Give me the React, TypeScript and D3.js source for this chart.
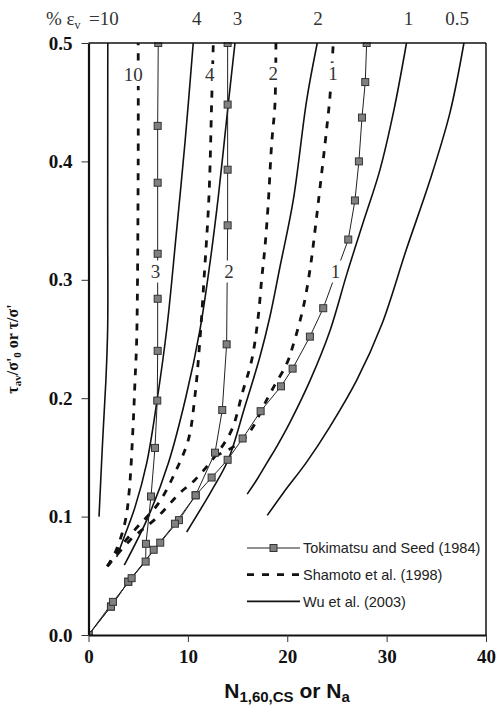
import React, { useEffect, useRef } from 'react';
import * as d3 from 'd3';

type Pt = [number, number];

// Wu et al. (2003) – solid curves, labelled along the top by % volumetric strain
const wu10: Pt[] = [[1.06, 0.1], [1.4, 0.16], [1.75, 0.215], [1.93, 0.26], [1.93, 0.35], [1.94, 0.5]];
const wu4: Pt[] = [[2.84, 0.066], [3.6, 0.083], [4.68, 0.108], [5.85, 0.145], [6.86, 0.196], [7.87, 0.258], [8.87, 0.342], [9.71, 0.416], [10.54, 0.5]];
const wu3: Pt[] = [[3.6, 0.059], [6.02, 0.1], [8.03, 0.145], [9.8, 0.201], [11.22, 0.258], [12.22, 0.314], [13.06, 0.37], [14.07, 0.449], [14.74, 0.5]];
const wu2: Pt[] = [[9.88, 0.087], [12.39, 0.122], [14.06, 0.148], [15.74, 0.193], [17.25, 0.235], [18.26, 0.269], [19.27, 0.311], [20.6, 0.367], [21.96, 0.452], [23.02, 0.5]];
const wu1: Pt[] = [[15.97, 0.119], [17.0, 0.132], [18.0, 0.146], [19.0, 0.16], [20.3, 0.18], [22.3, 0.215], [24.3, 0.257], [26.0, 0.305], [27.7, 0.35], [29.3, 0.392], [30.7, 0.442], [32.0, 0.5]];
const wu05: Pt[] = [[17.99, 0.101], [19.6, 0.12], [21.95, 0.146], [24.3, 0.176], [26.98, 0.215], [29.5, 0.262], [32.0, 0.326], [34.36, 0.384], [36.37, 0.441], [37.78, 0.5]];
const wuCurves = [wu10, wu4, wu3, wu2, wu1, wu05];

// Shamoto et al. (1998) – dashed curves
const sh10: Pt[] = [[1.9, 0.058], [2.7, 0.07], [3.67, 0.095], [4.1, 0.122], [4.5, 0.179], [4.68, 0.215], [4.85, 0.25], [5.0, 0.4], [5.0, 0.5]];
const sh4: Pt[] = [[1.9, 0.058], [3.0, 0.072], [4.68, 0.089], [7.02, 0.111], [8.7, 0.137], [10.05, 0.165], [10.7, 0.201], [11.22, 0.25], [11.62, 0.3], [12.12, 0.37], [12.39, 0.449], [12.56, 0.5]];
const sh2: Pt[] = [[1.9, 0.058], [4.18, 0.08], [6.86, 0.099], [9.2, 0.12], [10.71, 0.131], [12.73, 0.151], [14.4, 0.173], [15.5, 0.205], [16.42, 0.232], [17.08, 0.269], [17.42, 0.3], [17.76, 0.328], [18.09, 0.365], [18.43, 0.415], [18.76, 0.448], [18.86, 0.5]];
const sh1: Pt[] = [[12.73, 0.151], [14.2, 0.157], [15.57, 0.165], [16.58, 0.176], [17.59, 0.193], [18.6, 0.209], [19.94, 0.229], [20.6, 0.245], [21.62, 0.277], [22.33, 0.311], [22.84, 0.345], [23.34, 0.381], [23.96, 0.427], [24.3, 0.455], [24.63, 0.5]];
const shamotoCurves = [sh10, sh4, sh2, sh1];

// Tokimatsu and Seed (1984) – thin lines with square markers
const toki3: Pt[] = [[0, 0], [2.26, 0.024], [4.0, 0.045], [5.75, 0.062], [5.78, 0.077], [6.29, 0.117], [6.69, 0.158], [6.92, 0.198], [6.96, 0.24], [6.96, 0.284], [6.96, 0.322], [6.96, 0.382], [6.96, 0.43], [7.02, 0.5]];
const toki2: Pt[] = [[0, 0], [2.26, 0.024], [4.0, 0.045], [7.22, 0.078], [9.1, 0.097], [10.78, 0.118], [12.73, 0.154], [13.46, 0.19], [13.9, 0.2455], [14.0, 0.346], [14.0, 0.393], [14.0, 0.448], [14.0, 0.5]];
const toki1: Pt[] = [[0, 0], [2.46, 0.028], [4.34, 0.048], [6.56, 0.072], [8.7, 0.094], [10.78, 0.118], [12.39, 0.133], [14.0, 0.148], [15.51, 0.166], [17.32, 0.189], [19.37, 0.21], [20.54, 0.225], [22.28, 0.252], [23.62, 0.276], [26.14, 0.334], [26.81, 0.367], [27.21, 0.4], [27.52, 0.437], [27.85, 0.467], [27.99, 0.5]];
const tokiCurves = [toki3, toki2, toki1];

const topLabels = [
  { t: '4', x: 10.9 },
  { t: '3', x: 15.0 },
  { t: '2', x: 23.1 },
  { t: '1', x: 32.2 },
  { t: '0.5', x: 37.1 },
];
const shamotoLabels = [
  { t: '10', x: 4.5, y: 0.473 },
  { t: '4', x: 12.2, y: 0.473 },
  { t: '2', x: 18.6, y: 0.474 },
  { t: '1', x: 24.6, y: 0.474 },
];
const tokiLabels = [
  { t: '3', x: 6.75, y: 0.307 },
  { t: '2', x: 14.15, y: 0.307 },
  { t: '1', x: 24.85, y: 0.307 },
];
const xTicks = [0, 10, 20, 30, 40];
const yTicks = [0, 0.1, 0.2, 0.3, 0.4, 0.5];
const legendNames = ['Tokimatsu and Seed (1984)', 'Shamoto et al. (1998)', 'Wu et al. (2003)'];

const SERIF = '"Liberation Serif", "Times New Roman", serif';
const SANS = '"Liberation Sans", Arial, sans-serif';

const App: React.FC = () => {
  const svgRef = useRef<SVGSVGElement>(null);

  useEffect(() => {
    const svg = d3.select(svgRef.current);
    svg.selectAll('*').remove();

    const left = 88.5, right = 486, top = 43, bottom = 635;
    const x = d3.scaleLinear().domain([0, 40]).range([left, right]);
    const y = d3.scaleLinear().domain([0, 0.5]).range([bottom, top]);

    const line = d3.line<Pt>().x(d => x(d[0])).y(d => y(d[1]));
    const smooth = d3.line<Pt>().x(d => x(d[0])).y(d => y(d[1])).curve(d3.curveCatmullRom.alpha(0.5));

    const plot = svg.append('g');
    plot.append('defs').append('clipPath').attr('id', 'clip')
      .append('rect').attr('x', left).attr('y', top - 1).attr('width', right - left).attr('height', bottom - top + 1);
    const g = plot.append('g').attr('clip-path', 'url(#clip)');

    // Wu curves
    g.selectAll('.wu').data(wuCurves).enter().append('path')
      .attr('d', d => smooth(d)!)
      .attr('fill', 'none').attr('stroke', '#111').attr('stroke-width', 1.6);

    // Shamoto curves
    g.selectAll('.sh').data(shamotoCurves).enter().append('path')
      .attr('d', d => smooth(d)!)
      .attr('fill', 'none').attr('stroke', '#111').attr('stroke-width', 2.8)
      .attr('stroke-dasharray', '7,8');

    // Tokimatsu curves
    g.selectAll('.tk').data(tokiCurves).enter().append('path')
      .attr('d', d => line(d)!)
      .attr('fill', 'none').attr('stroke', '#222').attr('stroke-width', 1);
    tokiCurves.forEach(c => {
      g.selectAll(null).data(c).enter().append('rect')
        .attr('x', d => x(d[0]) - 3.5).attr('y', d => y(d[1]) - 3.5)
        .attr('width', 7).attr('height', 7)
        .attr('fill', '#808080').attr('stroke', '#333').attr('stroke-width', 1);
    });

    // in-plot labels with white background
    const inLabels = [...shamotoLabels, ...tokiLabels];
    inLabels.forEach(l => {
      const w = l.t.length * 9.5 + 4;
      svg.append('rect').attr('x', x(l.x) - w / 2).attr('y', y(l.y) - 11).attr('width', w).attr('height', 22).attr('fill', '#fff');
      svg.append('text').attr('x', x(l.x)).attr('y', y(l.y) + 6.5)
        .attr('text-anchor', 'middle').attr('font-family', SERIF).attr('font-size', 19).attr('fill', '#333')
        .text(l.t);
    });

    // frame
    svg.append('line').attr('x1', left).attr('x2', right).attr('y1', top).attr('y2', top).attr('stroke', '#111').attr('stroke-width', 1.5);
    svg.append('line').attr('x1', right).attr('x2', right).attr('y1', top).attr('y2', bottom).attr('stroke', '#111').attr('stroke-width', 1.5);

    // axes
    const ax = svg.append('g').attr('transform', `translate(0,${bottom})`)
      .call(d3.axisBottom(x).tickValues(xTicks).tickSize(7).tickSizeOuter(0).tickFormat(d3.format('d')));
    ax.select('.domain').attr('stroke', '#111').attr('stroke-width', 2.2);
    ax.selectAll('.tick line').attr('stroke', '#333');
    ax.selectAll('text').attr('font-family', SERIF).attr('font-weight', 'bold').attr('font-size', 19).attr('fill', '#111').attr('dy', '0.95em');

    const ay = svg.append('g').attr('transform', `translate(${left},0)`)
      .call(d3.axisLeft(y).tickValues(yTicks).tickSize(7).tickSizeOuter(0).tickPadding(9).tickFormat(d3.format('.1f')));
    ay.select('.domain').attr('stroke', '#111').attr('stroke-width', 2.2);
    ay.selectAll('.tick line').attr('stroke', '#333');
    ay.selectAll('text').attr('font-family', SERIF).attr('font-weight', 'bold').attr('font-size', 19).attr('fill', '#111');

    // top labels
    const tl = svg.append('text').attr('x', 46).attr('y', 25).attr('font-family', SERIF).attr('font-size', 19).attr('fill', '#333');
    tl.append('tspan').text('% ε');
    tl.append('tspan').attr('font-size', 12).attr('dy', 4).text('v');
    tl.append('tspan').attr('dy', -4).attr('x', 89).text('=10');
    svg.selectAll('.toplab').data(topLabels).enter().append('text')
      .attr('x', d => x(d.x)).attr('y', 25).attr('text-anchor', 'middle')
      .attr('font-family', SERIF).attr('font-size', 19).attr('fill', '#333')
      .text(d => d.t);

    // legend
    const lx1 = 247, lx2 = 300, ly0 = 548, ldy = 26.7;
    legendNames.forEach((name, i) => {
      const ly = ly0 + i * ldy;
      const ln = svg.append('line').attr('x1', lx1).attr('x2', lx2).attr('y1', ly).attr('y2', ly).attr('stroke', '#111');
      if (i === 0) {
        ln.attr('stroke-width', 1).attr('stroke', '#222');
        svg.append('rect').attr('x', (lx1 + lx2) / 2 - 3.5).attr('y', ly - 3.5).attr('width', 7).attr('height', 7)
          .attr('fill', '#808080').attr('stroke', '#333');
      } else if (i === 1) {
        ln.attr('stroke-width', 2.8).attr('stroke-dasharray', '7,8');
      } else {
        ln.attr('stroke-width', 1.6);
      }
      svg.append('text').attr('x', lx2 + 3).attr('y', ly).attr('dy', '0.36em')
        .attr('font-family', SANS).attr('font-size', 14.5).attr('fill', '#222').text(name);
    });

    // axis titles
    const xt = svg.append('text').attr('x', 287).attr('y', 698).attr('text-anchor', 'middle')
      .attr('font-family', SANS).attr('font-weight', 'bold').attr('font-size', 21).attr('fill', '#111');
    xt.append('tspan').text('N');
    xt.append('tspan').attr('font-size', 15).attr('dy', 4).text('1,60,CS');
    xt.append('tspan').attr('dy', -4).text(' or N');
    xt.append('tspan').attr('font-size', 15).attr('dy', 4).text('a');

    const yt = svg.append('text').attr('transform', 'translate(18,349) rotate(-90)').attr('text-anchor', 'middle')
      .attr('font-family', SERIF).attr('font-weight', 'bold').attr('font-size', 16).attr('fill', '#111');
    yt.append('tspan').text('τ');
    yt.append('tspan').attr('font-size', 11).attr('dy', 3).text('av');
    yt.append('tspan').attr('dy', -3).text("/σ'");
    yt.append('tspan').attr('font-size', 11).attr('dy', 3).text('0');
    yt.append('tspan').attr('dy', -3).text("  or  τ/σ'");
  }, []);

  return (
    <svg ref={svgRef} width={500} height={705} style={{ position: 'absolute', left: 0, top: 0, background: '#fff' }} />
  );
};

export default App;
